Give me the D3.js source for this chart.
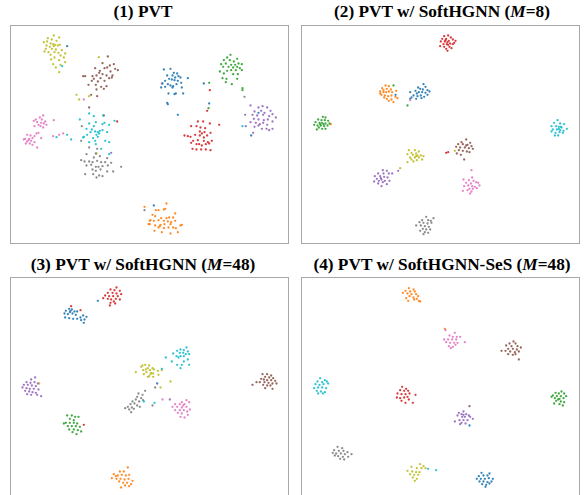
<!DOCTYPE html>
<html>
<head>
<meta charset="utf-8">
<script src="https://cdn.jsdelivr.net/npm/d3@7"></script>
<style>
  body { margin: 0; background: #fff; }
</style>
</head>
<body>
<script>
    // class ids follow tab10 order: 0 blue, 1 orange, 2 green, 3 red, 4 purple,
    // 5 brown, 6 pink, 7 gray, 8 olive, 9 cyan
    const classColors = d3.schemeCategory10;

    // t-SNE embeddings (units: 834 x 654 per panel)
    const pvt = [
        [8, [130,30, 146,36, 112,38, 124,42, 138,46, 100,50, 110,48, 120,54, 128,56, 134,58, 108,60, 118,64, 130,62, 142,60, 148,58, 106,70, 124,70, 136,72, 154,74, 102,78, 114,80, 132,80, 144,82, 164,84, 120,88, 150,90, 160,96, 132,96, 122,102, 146,104, 164,110, 128,116, 150,118, 136,126, 146,140, 265,95, 198,208, 206,222, 236,212, 258,384]],
        [5, [292,93, 276,113, 310,116, 298,120, 254,128, 282,128, 290,126, 314,130, 322,134, 268,136, 300,138, 266,142, 276,146, 246,152, 258,150, 288,150, 306,150, 218,152, 224,152, 250,160, 270,158, 296,158, 304,156, 244,166, 262,168, 282,166, 234,178, 256,178, 272,184, 288,182, 280,190, 258,192, 242,208, 260,212, 236,246, 280,270]],
        [6, [98,270, 88,276, 76,282, 94,282, 104,288, 70,286, 80,290, 92,292, 100,294, 108,298, 84,298, 72,302, 90,302, 98,306, 130,284, 50,328, 60,330, 72,332, 84,322, 78,324, 44,340, 56,340, 66,338, 40,342, 50,348, 62,346, 72,350, 46,354, 58,354, 66,358, 80,366, 92,338, 54,344, 128,332, 146,328, 158,324, 220,222, 454,174]],
        [9, [236,264, 250,272, 278,270, 208,282, 236,294, 256,290, 276,296, 296,298, 282,292, 228,310, 244,312, 254,318, 262,320, 268,316, 276,314, 290,320, 230,328, 240,320, 258,328, 220,334, 248,338, 262,334, 236,350, 254,346, 284,346, 296,350, 218,336, 256,356, 272,370, 312,286, 266,324, 250,302, 138,335, 170,328, 182,342, 296,386, 155,122, 696,302]],
        [3, [562,288, 578,288, 598,294, 542,302, 558,302, 570,306, 584,308, 626,298, 522,330, 532,332, 540,334, 554,328, 568,318, 574,324, 582,320, 590,330, 600,322, 548,346, 562,344, 580,346, 592,350, 604,346, 542,352, 558,356, 566,356, 574,360, 586,356, 596,354, 546,370, 558,372, 572,372, 586,372, 600,374, 568,330, 580,336, 590,256, 598,194, 320,288]],
        [7, [236,366, 260,370, 228,386, 256,384, 268,392, 290,398, 250,396, 212,404, 222,408, 236,408, 246,410, 260,406, 272,410, 284,410, 302,412, 228,420, 242,418, 256,424, 264,424, 276,422, 292,420, 246,432, 256,436, 270,432, 290,438, 308,438, 224,446, 248,446, 266,450, 258,456, 276,452, 332,424, 214,302, 212,346, 402,554, 702,214]],
        [4, [720,240, 744,246, 756,242, 770,246, 732,258, 752,256, 762,262, 780,256, 786,266, 704,268, 726,268, 740,270, 758,268, 776,272, 796,276, 730,280, 744,282, 760,284, 772,282, 786,288, 720,290, 736,292, 748,296, 758,292, 770,298, 732,304, 754,310, 768,310, 786,310, 776,314, 728,322, 744,300, 706,302, 302,382]],
        [0, [460,132, 480,130, 490,142, 500,144, 470,150, 486,150, 504,152, 494,156, 510,156, 476,160, 484,162, 492,164, 464,166, 502,166, 532,158, 456,174, 472,176, 480,180, 488,182, 498,176, 512,172, 452,186, 464,184, 486,186, 514,186, 474,204, 492,206, 496,204, 518,204, 470,232, 472,236, 502,268, 580,174, 596,234, 744,262, 722,330, 430,540, 170,62]],
        [2, [660,88, 650,96, 680,100, 640,104, 658,104, 670,108, 632,116, 646,114, 662,118, 674,118, 684,114, 694,116, 638,124, 654,124, 668,126, 680,124, 688,128, 628,138, 650,136, 662,134, 676,134, 694,134, 640,144, 668,146, 682,146, 636,158, 648,160, 680,160, 646,170, 664,176, 696,188, 696,194, 596,172, 594,248]],
        [1, [468,534, 436,554, 444,554, 460,552, 464,550, 494,564, 426,568, 434,572, 452,578, 468,578, 476,576, 488,576, 420,584, 430,586, 444,584, 460,586, 472,588, 482,590, 494,586, 414,596, 434,600, 450,598, 462,596, 480,596, 514,598, 510,600, 444,606, 460,608, 474,606, 488,606, 496,608, 432,616, 454,620, 480,624, 502,620, 448,602, 402,544, 418,586, 418,596]]
    ];

    const softM8 = [
        [3, [428,32, 440,30, 448,36, 422,40, 434,40, 454,42, 462,46, 418,48, 430,48, 438,50, 442,46, 446,54, 426,56, 436,56, 454,56, 416,62, 428,64, 444,64, 450,68, 434,70, 438,76, 458,52, 432,44, 440,58, 434,382, 440,380]],
        [1, [252,180, 262,182, 242,188, 256,190, 268,192, 236,198, 246,200, 254,200, 262,198, 272,200, 284,196, 240,208, 250,210, 260,212, 270,210, 282,214, 256,220, 270,222, 248,216, 262,226, 276,230, 288,218, 236,204, 246,194, 88,296]],
        [0, [366,176, 350,186, 372,184, 356,190, 364,192, 378,194, 342,196, 352,200, 362,200, 372,202, 384,198, 326,200, 336,210, 348,212, 358,210, 368,214, 378,208, 346,204, 360,218, 344,220, 326,220, 330,216, 282,208]],
        [2, [64,274, 72,276, 50,282, 60,284, 70,284, 80,286, 42,290, 54,292, 62,292, 72,294, 84,294, 38,298, 48,300, 58,300, 68,302, 78,300, 52,306, 62,310, 72,310, 46,312, 66,296, 56,296, 276,180, 318,240]],
        [8, [322,374, 340,374, 352,378, 330,382, 344,384, 318,386, 334,388, 348,390, 358,390, 366,392, 326,396, 340,396, 352,396, 362,402, 330,402, 346,404, 318,410, 336,408, 344,392, 296,428, 460,376]],
        [4, [244,434, 256,436, 230,444, 246,444, 262,444, 272,444, 220,452, 236,452, 248,454, 258,456, 226,460, 240,462, 232,466, 250,466, 264,466, 218,468, 244,470, 230,474, 256,476, 240,482, 238,458, 290,436]],
        [7, [374,574, 396,578, 362,584, 380,584, 388,586, 354,590, 366,592, 378,594, 390,592, 344,600, 358,600, 370,602, 382,604, 364,610, 374,612, 386,612, 356,616, 370,620, 380,622, 366,626]],
        [6, [510,434, 512,456, 486,462, 502,464, 516,466, 524,470, 494,472, 508,474, 530,472, 488,482, 500,480, 512,482, 520,484, 534,480, 504,490, 514,490, 526,488, 484,496, 498,494, 510,498, 506,504, 326,224]],
        [9, [768,284, 758,292, 776,294, 788,296, 750,302, 764,302, 772,304, 780,306, 796,310, 754,312, 766,312, 776,314, 786,316, 750,318, 762,322, 774,320, 784,322, 760,330, 770,330, 778,304, 772,310]],
        [5, [494,342, 480,350, 506,352, 470,356, 484,356, 498,358, 510,362, 464,364, 476,366, 490,366, 502,368, 514,370, 472,374, 484,376, 496,378, 504,380, 466,384, 478,388, 488,402, 494,360]]
    ];

    const softM48 = [
        [3, [318,30, 300,36, 312,38, 328,40, 292,46, 306,46, 318,48, 332,50, 284,54, 296,56, 308,56, 322,56, 278,62, 292,64, 302,66, 316,64, 328,66, 300,76, 314,78, 298,84, 310,72, 182,86, 210,98, 220,442]],
        [0, [176,94, 166,100, 180,100, 192,102, 200,102, 162,108, 172,110, 186,108, 196,112, 218,114, 228,118, 164,120, 176,122, 188,124, 200,124, 210,120, 222,126, 212,128, 220,136, 178,104, 184,96, 262,70, 440,318]],
        [8, [392,268, 404,262, 412,272, 398,278, 408,284, 376,284, 400,290, 412,298, 396,264, 406,276, 416,264, 426,272, 418,278, 430,276, 422,286, 428,288, 442,280, 454,278, 416,296, 428,298, 444,292, 420,290, 480,312, 450,330, 86,318]],
        [7, [404,340, 384,348, 396,352, 380,358, 392,362, 376,366, 366,372, 386,372, 360,380, 372,378, 380,384, 352,388, 364,390, 344,392, 356,396, 370,394, 362,404, 388,388, 398,368, 434,330, 426,384]],
        [9, [528,210, 510,216, 520,218, 500,220, 532,222, 488,228, 508,226, 518,226, 526,230, 536,230, 498,236, 510,236, 520,236, 504,240, 466,240, 532,246, 484,252, 520,252, 500,262, 514,262, 536,262, 510,272, 454,274, 400,372, 432,376]],
        [4, [74,300, 62,306, 48,314, 60,316, 72,314, 82,318, 40,322, 52,322, 64,324, 76,326, 36,330, 48,332, 58,334, 70,334, 84,336, 44,340, 56,342, 66,344, 76,346, 50,350, 62,352, 92,356, 80,352, 478,366]],
        [2, [170,414, 184,414, 194,418, 204,418, 178,424, 190,428, 166,436, 178,436, 190,436, 200,438, 160,438, 172,446, 184,446, 196,446, 208,448, 176,456, 190,456, 202,458, 212,462, 186,464, 198,470]],
        [1, [352,570, 328,582, 340,582, 310,590, 322,594, 334,592, 346,594, 356,592, 304,602, 318,604, 330,604, 342,606, 354,604, 366,610, 326,612, 338,616, 350,616, 362,620, 344,624, 332,630, 356,626, 316,596]],
        [6, [528,368, 514,374, 536,374, 494,380, 508,380, 522,380, 486,388, 500,388, 514,390, 528,388, 538,396, 494,398, 508,398, 520,398, 530,402, 502,406, 514,408, 532,412, 510,418, 522,420, 456,366, 518,384]],
        [5, [756,290, 770,290, 782,294, 764,298, 776,300, 788,302, 752,304, 760,306, 770,308, 782,308, 794,310, 738,314, 748,314, 762,314, 774,316, 786,318, 798,318, 726,322, 758,322, 770,324, 780,324, 764,332, 786,334]]
    ];

    const softSeS = [
        [1, [322,32, 336,36, 312,40, 326,42, 340,42, 304,46, 318,48, 330,50, 344,50, 350,56, 324,56, 336,60, 314,62, 346,64, 352,70, 320,70, 338,66, 356,72, 430,154]],
        [9, [56,302, 70,308, 48,312, 62,314, 76,312, 42,320, 54,322, 66,320, 80,318, 38,332, 50,330, 62,330, 74,332, 46,340, 58,342, 70,344, 50,348, 64,348, 380,574, 404,578]],
        [3, [302,328, 314,334, 296,338, 308,340, 320,340, 288,348, 300,350, 312,350, 324,348, 342,352, 286,360, 296,362, 308,360, 318,358, 300,370, 312,376, 334,376, 322,366]],
        [7, [108,508, 122,512, 98,518, 112,520, 126,520, 138,524, 94,526, 104,528, 118,528, 130,530, 150,530, 110,536, 124,538, 140,538, 100,534, 116,544, 128,546]],
        [8, [356,560, 366,566, 330,568, 346,572, 360,572, 372,572, 318,580, 332,582, 344,584, 354,584, 326,590, 338,592, 350,592, 334,600, 346,604, 340,610]],
        [6, [432,158, 460,166, 444,174, 454,178, 466,178, 476,178, 428,186, 440,186, 452,186, 464,186, 490,194, 434,194, 446,196, 458,196, 468,196, 442,206, 454,208, 448,212, 462,202]],
        [5, [636,192, 624,198, 642,198, 614,204, 630,206, 648,206, 658,210, 620,214, 634,214, 646,216, 600,220, 612,220, 626,222, 640,224, 652,222, 620,230, 634,232, 642,230, 652,246, 504,386]],
        [2, [780,342, 762,346, 772,348, 788,348, 754,354, 766,356, 778,356, 794,356, 750,358, 760,362, 774,364, 786,362, 764,370, 778,372, 788,374, 758,378, 774,380, 784,384, 770,366]],
        [4, [486,402, 472,406, 480,410, 494,410, 502,414, 468,414, 482,418, 490,418, 506,418, 514,424, 460,432, 474,428, 486,428, 498,428, 480,436, 492,438, 476,440, 486,412]],
        [0, [540,586, 564,588, 532,596, 546,594, 558,594, 526,604, 538,604, 550,604, 562,602, 574,604, 534,612, 546,612, 558,614, 570,612, 542,620, 554,622, 564,618, 552,628, 504,444]]
    ];

    // titles: [prefix, italic part, suffix]
    const titles = [
        ["(1) PVT", "", ""],
        ["(2) PVT w/ SoftHGNN (", "M", "=8)"],
        ["(3) PVT w/ SoftHGNN (", "M", "=48)"],
        ["(4) PVT w/ SoftHGNN-SeS (", "M", "=48)"]
    ];

    const width = 585;
    const height = 495;
    const panelW = 278;
    const panelH = 218;

    const panels = [
        { data: pvt,     x0: 10.5,  y0: 25.5,  tx: 143, ty: 17 },
        { data: softM8,  x0: 301.5, y0: 25.5,  tx: 442, ty: 17 },
        { data: softM48, x0: 10.5,  y0: 277.5, tx: 143, ty: 270 },
        { data: softSeS, x0: 301.5, y0: 277.5, tx: 442, ty: 270 }
    ];

    const svg = d3.select("body")
        .append("svg")
        .attr("width", width)
        .attr("height", height);

    panels.forEach((p, i) => {
        const x = d3.scaleLinear().domain([0, 834]).range([p.x0, p.x0 + panelW]);
        const y = d3.scaleLinear().domain([0, 654]).range([p.y0, p.y0 + panelH]);

        const g = svg.append("g");

        // frame
        g.append("rect")
            .attr("x", p.x0)
            .attr("y", p.y0)
            .attr("width", panelW)
            .attr("height", panelH)
            .attr("fill", "none")
            .attr("stroke", "#a8a8a8")
            .attr("stroke-width", 1);

        // flatten clusters into points
        const points = [];
        p.data.forEach(([cls, coords]) => {
            for (let k = 0; k < coords.length; k += 2) {
                points.push({ cls: cls, x: coords[k], y: coords[k + 1] });
            }
        });

        g.selectAll("circle")
            .data(points)
            .enter()
            .append("circle")
            .attr("cx", d => x(d.x))
            .attr("cy", d => y(d.y))
            .attr("r", 1.15)
            .attr("fill", d => classColors[d.cls])
            .attr("fill-opacity", 0.9);

        // title
        const t = titles[i];
        const text = svg.append("text")
            .attr("x", p.tx)
            .attr("y", p.ty)
            .attr("text-anchor", "middle")
            .attr("font-family", "'Times New Roman', 'Liberation Serif', serif")
            .attr("font-weight", "bold")
            .attr("font-size", "17.3px")
            .attr("fill", "#000");
        text.append("tspan").text(t[0]);
        if (t[1]) {
            text.append("tspan").attr("font-style", "italic").text(t[1]);
            text.append("tspan").text(t[2]);
        }
    });
</script>
</body>
</html>
